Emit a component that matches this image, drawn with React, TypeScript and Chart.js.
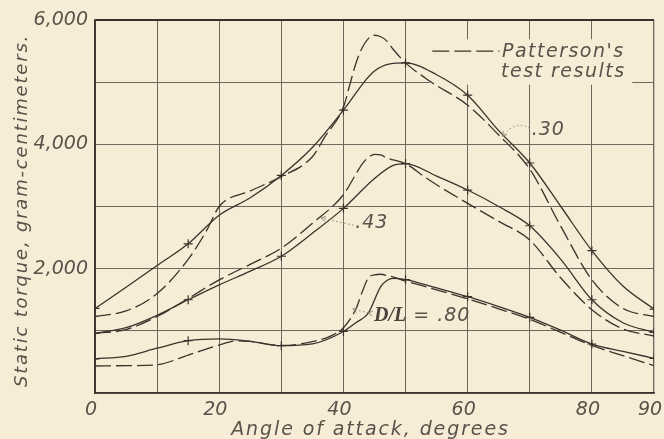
import React, { useEffect, useRef } from 'react';
import { Chart, registerables } from 'chart.js';
Chart.register(...registerables);

const BG = '#f7ecd6';
const INK = '#3b332b';
const GRID = '#6e675e';
const TEXT = '#5a524a';
const LEADER = '#8a8278';
const SANS = '"DejaVu Sans"';
const W = 300;

// Tick labels
const xTickLabels = [0, 20, 40, 60, 80, 90];
const yTickLabels = [2000, 4000, 6000];
const markerAngles = [0, 15, 30, 40, 50, 60, 70, 80, 90];

// Axis titles
const xTitle = 'Angle of attack, degrees';
const yTitle = 'Static torque, gram-centimeters.';

// D/L = .30, computed (solid, with + marks)
const solid30X = [0, 5, 10, 15, 20, 25, 30, 35, 40, 45, 50, 55, 60, 65, 70, 75, 80, 85, 90];
const solid30Y = [1360, 1700, 2050, 2400, 2860, 3140, 3500, 3950, 4550, 5180, 5310, 5120, 4790, 4220, 3700, 3000, 2290, 1720, 1350];
// D/L = .30, Patterson's test results (dashed)
const dashed30X = [0, 5, 10, 15, 18, 20, 25, 30, 35, 37, 40, 41, 42, 43, 44, 45, 46, 47, 48, 50, 54, 60, 65, 70, 75, 80, 85, 90];
const dashed30Y = [1230, 1320, 1600, 2150, 2620, 3000, 3250, 3480, 3800, 4120, 4600, 4950, 5300, 5550, 5700, 5755, 5730, 5660, 5530, 5310, 5010, 4630, 4150, 3600, 2680, 1820, 1360, 1230];

// D/L = .43
const solid43X = [0, 5, 10, 15, 20, 25, 30, 35, 40, 45, 48, 50, 55, 60, 65, 70, 75, 80, 85, 90];
const solid43Y = [960, 1050, 1250, 1500, 1740, 1960, 2200, 2570, 2970, 3450, 3660, 3690, 3490, 3265, 3000, 2690, 2150, 1500, 1130, 976];
const dashed43X = [0, 5, 10, 15, 20, 25, 30, 35, 40, 42, 43, 44, 45, 46, 47, 50, 53, 55, 60, 65, 70, 75, 80, 85, 90];
const dashed43Y = [960, 1020, 1230, 1520, 1820, 2070, 2330, 2730, 3190, 3520, 3680, 3790, 3840, 3830, 3780, 3690, 3480, 3350, 3050, 2760, 2460, 1850, 1340, 1030, 917];

// D/L = .80
const solid80X = [0, 5, 10, 15, 20, 25, 30, 35, 40, 42, 44, 46, 47, 48, 50, 55, 60, 65, 70, 75, 80, 85, 90];
const solid80Y = [550, 590, 720, 841, 870, 830, 761, 790, 990, 1130, 1285, 1710, 1810, 1845, 1825, 1690, 1549, 1390, 1218, 1010, 788, 670, 558];
const dashed80X = [0, 5, 10, 15, 20, 23, 25, 30, 35, 38, 40, 42, 43, 44, 45, 46, 47, 48.5, 50, 55, 60, 65, 70, 75, 80, 85, 90];
const dashed80Y = [434, 440, 455, 610, 772, 840, 830, 765, 825, 920, 1050, 1350, 1620, 1850, 1900, 1910, 1890, 1850, 1800, 1660, 1515, 1355, 1185, 975, 765, 600, 440];

// Legend (Patterson's test results)
const legendText = ["Patterson's", 'test results'];
const legendLineX = [54.3, 65.1];
const legendLineY = 5500;
const legendTextX = 75.4;
const legendTextY = [5485, 5160];
const legendBoxX = [53.9, 86.5];
const legendBoxY = [4960, 5690];

// Curve labels
const label30 = { text: '.30', x: 70.3, y: 4230 };
const leader30 = { from: [70.0, 4255], ctrl: [67.8, 4400], to: [65.6, 4130] };
const label43 = { text: '.43', x: 41.9, y: 2735 };
const leader43 = { from: [41.6, 2700], to: [36.4, 2815] };
const label80 = { prefix: 'D/L', text: ' = .80', x: 44.6, y: 1245 };
const leader80 = { from: [44.0, 1290], to: [41.5, 1350] };

const toPts = (xs: number[], ys: number[]) => xs.map((x, i) => ({ x, y: ys[i] }));

function arrowHead(ctx: CanvasRenderingContext2D, tx: number, ty: number, fx: number, fy: number) {
  const a = Math.atan2(ty - fy, tx - fx);
  const L = 5;
  ctx.beginPath();
  ctx.moveTo(tx - L * Math.cos(a - 0.5), ty - L * Math.sin(a - 0.5));
  ctx.lineTo(tx, ty);
  ctx.lineTo(tx - L * Math.cos(a + 0.5), ty - L * Math.sin(a + 0.5));
  ctx.stroke();
}

const annotPlugin = {
  id: 'annot',
  beforeDatasetsDraw(chart: any) {
    const { ctx, scales } = chart;
    const x = scales.x, y = scales.y;
    ctx.save();
    ctx.fillStyle = BG;
    const x0 = x.getPixelForValue(legendBoxX[0]);
    const x1 = x.getPixelForValue(legendBoxX[1]);
    const y0 = y.getPixelForValue(legendBoxY[1]);
    const y1 = y.getPixelForValue(legendBoxY[0]);
    ctx.fillRect(x0, y0, x1 - x0, y1 - y0);
    ctx.restore();
  },
  afterDatasetsDraw(chart: any) {
    const { ctx, scales, chartArea } = chart;
    const x = scales.x, y = scales.y;
    const px = (v: number) => x.getPixelForValue(v);
    const py = (v: number) => y.getPixelForValue(v);
    ctx.save();
    // legend line
    ctx.strokeStyle = INK;
    ctx.lineWidth = 1.3;
    ctx.setLineDash([17, 5]);
    ctx.beginPath();
    ctx.moveTo(px(legendLineX[0]), py(legendLineY));
    ctx.lineTo(px(legendLineX[1]), py(legendLineY));
    ctx.stroke();
    ctx.setLineDash([]);
    ctx.fillStyle = TEXT;
    (ctx as any).letterSpacing = '1.5px';
    ctx.font = `italic ${W} 19px ${SANS}`;
    ctx.textAlign = 'center';
    ctx.textBaseline = 'middle';
    legendText.forEach((t, i) => ctx.fillText(t, px(legendTextX), py(legendTextY[i])));

    // axis titles
    (ctx as any).letterSpacing = '1.9px';
    ctx.fillText(xTitle, (chartArea.left + chartArea.right) / 2 - 4, chart.height - 9);
    ctx.save();
    ctx.translate(22, (chartArea.top + chartArea.bottom) / 2 + 4);
    ctx.rotate(-Math.PI / 2);
    (ctx as any).letterSpacing = '1.8px';
    ctx.font = `italic ${W} 18px ${SANS}`;
    ctx.fillText(yTitle, 0, 0);
    ctx.restore();

    // labels
    (ctx as any).letterSpacing = '1px';
    ctx.font = `italic ${W} 19px ${SANS}`;
    ctx.textAlign = 'left';
    ctx.fillText(label30.text, px(label30.x), py(label30.y));
    ctx.fillText(label43.text, px(label43.x), py(label43.y));
    (ctx as any).letterSpacing = '0px';
    ctx.font = `italic bold 20px "Liberation Serif"`;
    ctx.fillStyle = '#4a423a';
    const dlX = px(label80.x) + 2;
    ctx.fillText(label80.prefix, dlX, py(label80.y));
    const w = ctx.measureText(label80.prefix).width;
    (ctx as any).letterSpacing = '1px';
    ctx.font = `italic ${W} 19px ${SANS}`;
    ctx.fillStyle = TEXT;
    ctx.fillText(label80.text, dlX + w, py(label80.y));
    (ctx as any).letterSpacing = '0px';

    // leaders
    ctx.strokeStyle = LEADER;
    ctx.lineWidth = 1;
    ctx.setLineDash([1.5, 2.5]);
    ctx.beginPath();
    ctx.moveTo(px(leader30.from[0]), py(leader30.from[1]));
    ctx.quadraticCurveTo(px(leader30.ctrl[0]), py(leader30.ctrl[1]), px(leader30.to[0]), py(leader30.to[1]));
    ctx.stroke();
    ctx.beginPath();
    ctx.moveTo(px(leader43.from[0]), py(leader43.from[1]));
    ctx.lineTo(px(leader43.to[0]), py(leader43.to[1]));
    ctx.stroke();
    ctx.beginPath();
    ctx.moveTo(px(leader80.from[0]), py(leader80.from[1]));
    ctx.lineTo(px(leader80.to[0]), py(leader80.to[1]));
    ctx.stroke();
    ctx.setLineDash([]);
    arrowHead(ctx, px(leader30.to[0]), py(leader30.to[1]), px(leader30.ctrl[0]), py(leader30.ctrl[1]));
    arrowHead(ctx, px(leader43.to[0]), py(leader43.to[1]), px(leader43.from[0]), py(leader43.from[1]));
    arrowHead(ctx, px(leader80.to[0]), py(leader80.to[1]), px(leader80.from[0]), py(leader80.from[1]));
    arrowHead(ctx, px(leader80.from[0]), py(leader80.from[1]), px(leader80.from[0]) + 6, py(leader80.from[1]) + 1);
    ctx.restore();
  },
};

export default function App() {
  const ref = useRef<HTMLCanvasElement>(null);
  useEffect(() => {
    if (!ref.current) return;
    const markerRadius = (c: any) => (c.raw && markerAngles.includes(c.raw.x) ? 4.5 : 0);
    const solid = (data: any) => ({
      data,
      borderColor: INK,
      borderWidth: 1.3,
      pointStyle: 'cross',
      pointRadius: markerRadius,
      pointBorderColor: INK,
      pointBorderWidth: 1.2,
      cubicInterpolationMode: 'monotone',
      fill: false,
    });
    const dashed = (data: any) => ({
      data,
      borderColor: INK,
      borderWidth: 1.3,
      borderDash: [16, 5],
      pointRadius: 0,
      cubicInterpolationMode: 'monotone',
      fill: false,
    });
    const tickFont = { family: SANS, size: 19, style: 'italic', weight: W };
    const chart = new Chart(ref.current, {
      type: 'line',
      data: {
        datasets: [
          solid(toPts(solid30X, solid30Y)),
          dashed(toPts(dashed30X, dashed30Y)),
          solid(toPts(solid43X, solid43Y)),
          dashed(toPts(dashed43X, dashed43Y)),
          solid(toPts(solid80X, solid80Y)),
          dashed(toPts(dashed80X, dashed80Y)),
        ] as any,
      },
      options: {
        animation: false,
        responsive: true,
        maintainAspectRatio: false,
        layout: { padding: { top: 20, right: 10, left: 0, bottom: 0 } },
        plugins: { legend: { display: false }, tooltip: { enabled: false } },
        events: [],
        scales: {
          x: {
            type: 'linear',
            min: 0,
            max: 90,
            ticks: {
              stepSize: 10,
              color: TEXT,
              font: tickFont,
              padding: 6,
              labelOffset: -4,
              maxRotation: 0,
              autoSkip: false,
              callback: (v: any) => (xTickLabels.includes(v) ? String(v) : ''),
            },
            grid: {
              color: GRID,
              lineWidth: (c: any) => (c.tick && c.tick.value === 90 ? 1.3 : 1),
              drawTicks: false,
            },
            border: { display: true, color: INK, width: 1.6 },
            afterFit: (s: any) => {
              s.height = 46;
              s.paddingLeft = 0;
              s.paddingRight = 0;
            },
          },
          y: {
            type: 'linear',
            min: 0,
            max: 6000,
            ticks: {
              stepSize: 1000,
              color: TEXT,
              font: tickFont,
              padding: 7,
              autoSkip: false,
              callback: (v: any) => (yTickLabels.includes(v) ? Number(v).toLocaleString('en-US') : ''),
            },
            grid: {
              color: (c: any) => (c.tick && c.tick.value === 6000 ? INK : GRID),
              lineWidth: (c: any) => (c.tick && c.tick.value === 6000 ? 2 : 1),
              drawTicks: false,
            },
            border: { display: true, color: INK, width: 1.8 },
            afterFit: (s: any) => {
              s.width = 95;
              s.paddingTop = 0;
              s.paddingBottom = 0;
            },
          },
        },
      } as any,
      plugins: [annotPlugin],
    });
    return () => chart.destroy();
  }, []);
  return (
    <div style={{ position: 'fixed', left: 0, top: 0, width: 664, height: 439, background: BG }}>
      <canvas ref={ref} />
    </div>
  );
}
